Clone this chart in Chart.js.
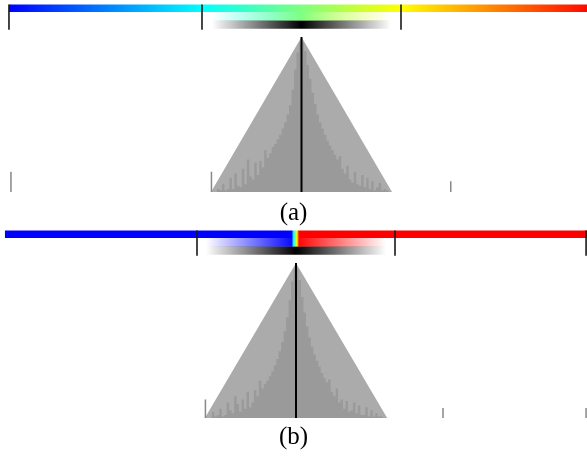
<!DOCTYPE html>
<html lang="en">
<head>
<meta charset="UTF-8" />
<title>Histograms with colour bars</title>
<script src="https://cdn.jsdelivr.net/npm/chart.js"></script>
<style>
  body { margin: 0; background: #fff; }
  canvas { position: absolute; left: 0; }
  #chartA { top: 0; }
  #chartB { top: 226px; }
</style>
</head>
<body>
<canvas id="chartA" width="587" height="226"></canvas>
<canvas id="chartB" width="587" height="233"></canvas>
<script>
// colour maps (blue -> cyan -> yellow -> red)
const cmapColorsA = [[0, 0, 255], [0, 255, 255], [255, 255, 0], [255, 0, 0]];
const cmapStopsA = [-2.94, -1, 1, 2.94];
const cmapColorsB = [[0, 0, 255], [0, 0, 255], [0, 255, 255], [255, 255, 0], [255, 0, 0], [255, 0, 0]];
const cmapStopsB = [-2.94, -0.045, -0.025, 0.01, 0.03, 2.94];

// tick marks on the colour bars
const ticksA = [-2.94, -1, 1];
const ticksB = [-1, 1, 2.93];

// outer (triangular) histogram
const triangleXA = [-0.91, 0, 0.91];
const triangleYA = [0, 1, 0];
const triangleXB = [-0.92, 0, 0.92];
const triangleYB = [0, 1, 0];

// inner histogram, bins of 0.025 counted outwards from the centre
const binWidth = 0.025;
const innerLeftA = [0.965, 0.9, 0.79, 0.66, 0.56, 0.5, 0.45, 0.41, 0.37, 0.34, 0.31, 0.29, 0.25, 0.22, 0.27, 0.16, 0.2, 0.11, 0.19, 0.08, 0.1, 0.21, 0.05, 0.15, 0.03, 0.04, 0.12, 0.02, 0.09, 0.02, 0.01, 0.05, 0.01, 0.02, 0, 0];
const innerRightA = [0.965, 0.91, 0.82, 0.73, 0.64, 0.57, 0.5, 0.45, 0.41, 0.37, 0.33, 0.3, 0.27, 0.24, 0.21, 0.23, 0.15, 0.12, 0.17, 0.08, 0.06, 0.13, 0.05, 0.04, 0.11, 0.03, 0.09, 0.02, 0.07, 0.01, 0.03, 0.06, 0.01, 0.02, 0.01, 0];
const innerLeftB = [0.96, 0.88, 0.76, 0.65, 0.56, 0.49, 0.43, 0.38, 0.34, 0.3, 0.27, 0.24, 0.22, 0.19, 0.24, 0.14, 0.18, 0.1, 0.07, 0.17, 0.06, 0.12, 0.04, 0.09, 0.14, 0.03, 0.05, 0.1, 0.02, 0.01, 0.06, 0.02, 0.01, 0.04, 0, 0];
const innerRightB = [0.96, 0.89, 0.78, 0.68, 0.59, 0.52, 0.46, 0.41, 0.37, 0.33, 0.29, 0.26, 0.23, 0.25, 0.17, 0.14, 0.19, 0.1, 0.12, 0.06, 0.11, 0.04, 0.05, 0.1, 0.03, 0.08, 0.02, 0.02, 0.07, 0.01, 0.05, 0.01, 0.03, 0.01, 0.01, 0];

// isolated bins away from the bulk
const spikeXA = [-2.92, -0.905, 1.5];
const spikeYA = [0.13, 0.13, 0.07];
const spikeXB = [-0.915, 1.485, 2.93];
const spikeYB = [0.12, 0.065, 0.065];

// width of the weighting window under the colour bar
const windowHalfA = 0.9;
const windowHalfB = 0.91;

function cmapAt(v, stops, colors) {
  if (v <= stops[0]) return colors[0];
  for (let i = 1; i < stops.length; i++) {
    if (v <= stops[i]) {
      const t = (v - stops[i - 1]) / (stops[i] - stops[i - 1]);
      return colors[i].map((c, j) => Math.round(colors[i - 1][j] + t * (c - colors[i - 1][j])));
    }
  }
  return colors[colors.length - 1];
}

function makeChart(id, p) {
  // vertical levels of the bars above the histogram (y units)
  const barLevel = 1.1855, fadeLevel = 1.134, grayLevel = 1.08;
  const tickTop = 1.21, tickBottom = 1.046;
  const fontSize = 25;
  // bottom of the plot area in canvas pixels; y = 0 sits at 192px
  const plotBottom = p.height - fontSize - p.labelPad;

  function fullBar(context) {
    const chart = context.chart;
    if (!chart.chartArea) return 'rgba(0,0,0,0)';
    const s = p.stops, x = chart.scales.x;
    const x0 = x.getPixelForValue(s[0]), x1 = x.getPixelForValue(s[s.length - 1]);
    const g = chart.ctx.createLinearGradient(x0, 0, x1, 0);
    s.forEach((v, i) => {
      g.addColorStop((v - s[0]) / (s[s.length - 1] - s[0]), 'rgb(' + p.colors[i].join(',') + ')');
    });
    return g;
  }

  function windowed(colored) {
    return function (context) {
      const chart = context.chart;
      if (!chart.chartArea) return 'rgba(0,0,0,0)';
      const w = p.half, x = chart.scales.x;
      const g = chart.ctx.createLinearGradient(x.getPixelForValue(-w), 0, x.getPixelForValue(w), 0);
      let pos = [];
      for (let i = 0; i <= 60; i++) pos.push(-w + (2 * w * i) / 60);
      p.stops.forEach((v) => { if (v > -w && v < w) pos.push(v); });
      pos.sort((a, b) => a - b);
      pos.forEach((v) => {
        const a = Math.max(0, 1 - Math.abs(v) / w);
        const c = colored ? cmapAt(v, p.stops, p.colors) : [0, 0, 0];
        g.addColorStop((v + w) / (2 * w), 'rgba(' + c.join(',') + ',' + a.toFixed(3) + ')');
      });
      return g;
    };
  }

  const inner = [];
  const n = p.left.length;
  for (let k = n - 1; k >= 0; k--) inner.push({ x: -(k + 1) * binWidth, y: p.left[k] });
  for (let k = 0; k < n; k++) inner.push({ x: k * binWidth, y: p.right[k] });
  inner.push({ x: n * binWidth, y: 0 });

  const triangle = p.triX.map((x, i) => ({ x: x, y: p.triY[i] }));

  const spikes = [];
  p.spikeX.forEach((x, i) => {
    spikes.push({ x: x, y: 0 }, { x: x, y: p.spikeY[i] }, { x: x, y: null });
  });

  const ticks = [];
  p.ticks.forEach((t) => {
    ticks.push({ x: t, y: tickBottom }, { x: t, y: tickTop }, { x: t, y: null });
  });

  const lo = p.stops[0], hi = p.stops[p.stops.length - 1];

  return new Chart(document.getElementById(id).getContext('2d'), {
    type: 'line',
    data: {
      datasets: [
        { data: triangle, backgroundColor: '#ababab', borderColor: 'rgba(0,0,0,0)', fill: 'origin', order: 6 },
        { data: inner, backgroundColor: '#9a9a9a', borderColor: 'rgba(0,0,0,0)', fill: 'origin', stepped: 'before', order: 5 },
        { data: spikes, borderColor: '#888888', borderWidth: 1.5, order: 4 },
        { data: [{ x: 0, y: 0 }, { x: 0, y: 1 }], borderColor: '#000', borderWidth: 2, order: 1 },
        { data: [{ x: lo, y: barLevel }, { x: hi, y: barLevel }], borderColor: fullBar, borderWidth: 7.5, order: 3 },
        { data: [{ x: -p.half, y: fadeLevel }, { x: p.half, y: fadeLevel }], borderColor: windowed(true), borderWidth: 8.5, order: 3 },
        { data: [{ x: -p.half, y: grayLevel }, { x: p.half, y: grayLevel }], borderColor: windowed(false), borderWidth: 8.5, order: 3 },
        { data: ticks, borderColor: '#1a1a1a', borderWidth: 1.6, order: 2 }
      ]
    },
    options: {
      responsive: false,
      animation: false,
      devicePixelRatio: 1,
      layout: { padding: 0 },
      elements: { point: { radius: 0 }, line: { tension: 0 } },
      scales: {
        x: { type: 'linear', min: p.xMin, max: p.xMax, display: false },
        y: { type: 'linear', min: -(plotBottom - 192) / 155, max: 192 / 155, display: false }
      },
      plugins: {
        legend: { display: false },
        tooltip: { enabled: false },
        title: {
          display: true,
          text: p.label,
          position: 'bottom',
          color: '#000',
          font: { family: '"Liberation Serif", "Times New Roman", serif', size: fontSize, weight: 'normal', lineHeight: 1 },
          padding: { top: 0, bottom: p.labelPad }
        }
      }
    }
  });
}

makeChart('chartA', {
  stops: cmapStopsA, colors: cmapColorsA, ticks: ticksA, half: windowHalfA,
  triX: triangleXA, triY: triangleYA, left: innerLeftA, right: innerRightA,
  spikeX: spikeXA, spikeY: spikeYA, label: '(a)', labelPad: 0, height: 226,
  xMin: -301.5 / 99.5, xMax: 285.5 / 99.5
});

makeChart('chartB', {
  stops: cmapStopsB, colors: cmapColorsB, ticks: ticksB, half: windowHalfB,
  triX: triangleXB, triY: triangleYB, left: innerLeftB, right: innerRightB,
  spikeX: spikeXB, spikeY: spikeYB, label: '(b)', labelPad: 9, height: 233,
  xMin: -296 / 99, xMax: 291 / 99
});
</script>
</body>
</html>
